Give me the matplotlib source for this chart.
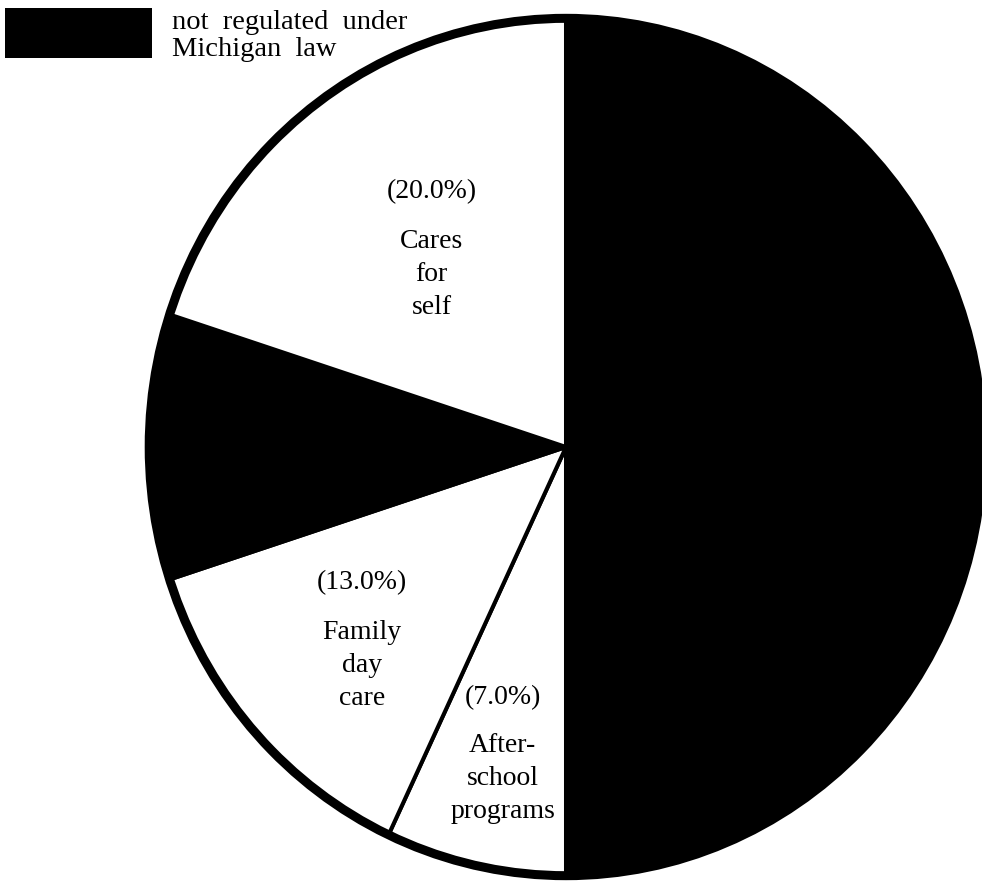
import numpy as np
import matplotlib.pyplot as plt
from matplotlib.patches import Circle, Rectangle

# after-school care arrangements, clockwise from 12 o'clock
categories = ['Not regulated', 'After-school programs', 'Family day care',
              'Not regulated (other)', 'Cares for self']
shares = [50.0, 7.0, 13.0, 10.0, 20.0]
regulated = [False, True, True, False, True]
slice_names = ['', 'After-\nschool\nprograms', 'Family\nday\ncare', '', 'Cares\nfor\nself']
legend_text = 'not  regulated  under\nMichigan  law'

serif = ['Liberation Serif', 'DejaVu Serif']
W, H = 982, 883
fig = plt.figure(figsize=(W / 100, H / 100), dpi=100)

# pie box in pixels (slightly taller than wide)
cx, cy, rx, ry = 566, 447, 421, 433
ax = fig.add_axes([(cx - rx) / W, (H - cy - ry) / H, 2 * rx / W, 2 * ry / H])

fills = ['white' if r else 'black' for r in regulated]
wedges, _ = ax.pie(shares, colors=fills, startangle=90, counterclock=False,
                   radius=0.99, wedgeprops=dict(edgecolor='black', linewidth=2.9))
ax.set_aspect('auto')
ax.set_xlim(-1, 1)
ax.set_ylim(-1, 1)
ax.axis('off')

# heavy outer rim
ax.add_patch(Circle((0, 0), 0.99, fill=False, ec='black', lw=6.5, clip_on=False))

# slice labels: name block + percentage above it
label_dist = {1: 0.78, 2: 0.70, 4: 0.51}
label_nudge = {1: 1.5, 2: 4.8, 4: 2.8}
pct_lift = {1: 58, 2: 60, 4: 60}
for i, w in enumerate(wedges):
    if not slice_names[i]:
        continue
    mid = np.deg2rad((w.theta1 + w.theta2) / 2 + label_nudge[i])
    x, y = label_dist[i] * np.cos(mid), label_dist[i] * np.sin(mid)
    ax.text(x, y, slice_names[i], ha='center', va='center', fontsize=20,
            family=serif, linespacing=1.42)
    ax.annotate(f'({shares[i]:.1f}%)', (x, y), xytext=(0, pct_lift[i]),
                textcoords='offset points', ha='center', va='center',
                fontsize=20, family=serif)

# key box
fig.patches.append(Rectangle((5 / W, 1 - 58 / H), 147 / W, 50 / H,
                             transform=fig.transFigure, fc='black', ec='none'))
fig.text(172 / W, 1 - 36 / H, legend_text, ha='left', va='center',
         fontsize=20.5, family=serif, linespacing=1.12)

fig.savefig('out.png', dpi=100, facecolor='white')
